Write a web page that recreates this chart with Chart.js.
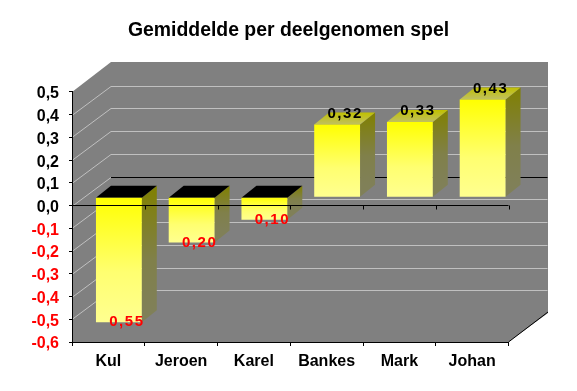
<!DOCTYPE html>
<html>
<head>
<meta charset="utf-8">
<style>
    html, body { margin: 0; padding: 0; background: #fff; }
    .wrap { width: 577px; height: 391px; }
</style>
<script src="https://cdn.jsdelivr.net/npm/chart.js@4"></script>
</head>
<body>
<div class="wrap"><canvas id="chart" width="577" height="391"></canvas></div>
<script>
const titleText = "Gemiddelde per deelgenomen spel";
const categories = ["Kul", "Jeroen", "Karel", "Bankes", "Mark", "Johan"];
const averages = [-0.55, -0.20, -0.10, 0.32, 0.33, 0.43];

// depth of the back wall and of the bars, in pixels
const wallDx = 39, wallDy = 29;
const barDx = 10.5, barDy = 8.5;
const sideDx = 15, sideDy = 12;

const fontName = '"Liberation Sans", Arial, sans-serif';

function comma(v, digits) {
    return Math.abs(v).toFixed(digits).replace(".", ",");
}

function paintWall(chart) {
    const { ctx, chartArea: a, scales: { y } } = chart;
    ctx.save();
    ctx.fillStyle = "#808080";
    ctx.beginPath();
    ctx.moveTo(a.left, a.top);
    ctx.lineTo(a.left + wallDx, a.top - wallDy - 1);
    ctx.lineTo(a.right + wallDx + 0.5, a.top - wallDy - 1);
    ctx.lineTo(a.right + wallDx + 0.5, a.bottom - wallDy);
    ctx.lineTo(a.right, a.bottom);
    ctx.lineTo(a.left, a.bottom);
    ctx.closePath();
    ctx.fill();

    y.ticks.forEach((t) => {
        if (t.value >= 0.45 || t.value <= -0.55) return;
        const py = Math.round(y.getPixelForValue(t.value)) + 0.5;
        const isZero = Math.abs(t.value) < 0.001;
        ctx.strokeStyle = "#c0c0c0";
        ctx.lineWidth = 1;
        ctx.beginPath();
        ctx.moveTo(a.left, py);
        ctx.lineTo(a.left + wallDx, py - wallDy);
        ctx.stroke();
        ctx.strokeStyle = isZero ? "#000000" : "#c0c0c0";
        ctx.beginPath();
        ctx.moveTo(a.left + wallDx, py - wallDy);
        ctx.lineTo(a.right + wallDx, py - wallDy);
        ctx.stroke();
    });

    ctx.strokeStyle = "#000000";
    ctx.beginPath();
    ctx.moveTo(a.right, a.bottom);
    ctx.lineTo(a.right + wallDx + 0.5, a.bottom - wallDy - 1);
    ctx.stroke();
    ctx.restore();
}

function paintBarSides(chart) {
    const { ctx } = chart;
    const bars = chart.getDatasetMeta(0).data;
    ctx.save();
    bars.forEach((bar, i) => {
        const p = bar.getProps(["x", "y", "base", "width"], true);
        const left = p.x - p.width / 2, right = p.x + p.width / 2;
        const top = Math.min(p.y, p.base), bottom = Math.max(p.y, p.base);

        const side = ctx.createLinearGradient(0, top - sideDy, 0, bottom - sideDy);
        side.addColorStop(0, "#808000");
        side.addColorStop(0.6, "#80804a");
        side.addColorStop(1, "#808058");
        ctx.fillStyle = side;
        ctx.beginPath();
        ctx.moveTo(right, top);
        ctx.lineTo(right + sideDx, top - sideDy);
        ctx.lineTo(right + sideDx, bottom - sideDy);
        ctx.lineTo(right, bottom);
        ctx.closePath();
        ctx.fill();

        // negative bars show a black lid, positive ones an olive one
        if (averages[i] < 0) {
            ctx.fillStyle = "#000000";
        } else {
            const lid = ctx.createLinearGradient(0, top - sideDy, 0, top);
            lid.addColorStop(0, "#c0c000");
            lid.addColorStop(1, "#c0c060");
            ctx.fillStyle = lid;
        }
        ctx.beginPath();
        ctx.moveTo(left, top);
        ctx.lineTo(left + sideDx, top - sideDy);
        ctx.lineTo(right + sideDx, top - sideDy);
        ctx.lineTo(right, top);
        ctx.closePath();
        ctx.fill();
    });
    ctx.restore();
}

function paintZeroAxis(chart) {
    const { ctx, chartArea: a, scales: { x, y } } = chart;
    const py = Math.round(y.getPixelForValue(0)) - 0.5;
    const step = x.getPixelForValue(1) - x.getPixelForValue(0);
    ctx.save();
    ctx.strokeStyle = "#000000";
    ctx.lineWidth = 1;
    ctx.beginPath();
    ctx.moveTo(a.left, py);
    ctx.lineTo(a.right, py);
    for (let i = 1; i <= categories.length; i++) {
        const px = Math.round(a.left + i * step) + 0.5;
        ctx.moveTo(px, py);
        ctx.lineTo(px, py + 4);
    }
    ctx.stroke();
    ctx.restore();
}

function paintValues(chart) {
    const { ctx } = chart;
    const bars = chart.getDatasetMeta(0).data;
    ctx.save();
    ctx.font = "bold 15px " + fontName;
    ctx.letterSpacing = "1.5px";
    ctx.textAlign = "center";
    ctx.textBaseline = "middle";
    bars.forEach((bar, i) => {
        const p = bar.getProps(["x", "y"], true);
        const v = averages[i];
        ctx.fillStyle = v < 0 ? "#ff0000" : "#000000";
        const tx = p.x + barDx + 8;
        const ty = v < 0 ? p.y - barDy : p.y - barDy - 11;
        ctx.fillText(comma(v, 2), tx, ty);
    });
    ctx.restore();
}

const depthPlugin = {
    id: "depth",
    beforeDraw(chart) {
        paintWall(chart);
    },
    beforeDatasetsDraw(chart) {
        chart.ctx.save();
        chart.ctx.translate(barDx, -barDy);
        paintBarSides(chart);
    },
    afterDatasetsDraw(chart) {
        chart.ctx.restore();
        paintZeroAxis(chart);
        paintValues(chart);
    },
};

new Chart(document.getElementById("chart"), {
    type: "bar",
    data: {
        labels: categories,
        datasets: [{
            data: averages,
            clip: false,
            categoryPercentage: 1,
            barPercentage: 0.63,
            backgroundColor(c) {
                const { chart, dataIndex } = c;
                const y = chart.scales.y;
                if (!y) return "#ffff00";
                const a = y.getPixelForValue(averages[dataIndex]);
                const b = y.getPixelForValue(0);
                // scales have no size yet on the first resolve
                if (!isFinite(a) || !isFinite(b)) return "#ffff00";
                const g = chart.ctx.createLinearGradient(0, Math.min(a, b), 0, Math.max(a, b));
                g.addColorStop(0, "#ffff00");
                g.addColorStop(0.6, "#ffff70");
                g.addColorStop(1, "#ffff90");
                return g;
            },
        }],
    },
    options: {
        responsive: false,
        animation: false,
        layout: { padding: 0 },
        plugins: {
            legend: { display: false },
            tooltip: { enabled: false },
            title: {
                display: true,
                text: titleText,
                color: "#000000",
                font: { family: fontName, size: 19.4, weight: "bold" },
                padding: { top: 19, bottom: 49.7 },
            },
        },
        scales: {
            x: {
                grid: { drawOnChartArea: false, color: "#000000", tickLength: 4, tickColor: "#000000" },
                border: { color: "#000000" },
                ticks: {
                    color: "#000000",
                    padding: 6,
                    maxRotation: 0,
                    font: { family: fontName, size: 16, weight: "bold" },
                },
                afterFit(s) { s.height = 49; },
            },
            y: {
                min: -0.6,
                max: 0.5,
                grid: { drawOnChartArea: false, color: "#000000", tickLength: 3, tickColor: "#000000" },
                border: { color: "#000000" },
                ticks: {
                    stepSize: 0.1,
                    padding: 10,
                    labelOffset: 2,
                    font: { family: fontName, size: 16, weight: "bold" },
                    color: (c) => (c.tick.value < -0.001 ? "#ff0000" : "#000000"),
                    callback(v) {
                        return (v < -0.001 ? "-" : "") + comma(v, 1);
                    },
                },
                afterFit(s) { s.width = 72; },
            },
            // empty right gutter, keeps the title centred on the whole canvas
            gutter: {
                position: "right",
                grid: { display: false },
                border: { display: false },
                ticks: { display: false },
                afterFit(s) { s.width = 68.5; },
            },
        },
    },
    plugins: [depthPlugin],
});
</script>
</body>
</html>
